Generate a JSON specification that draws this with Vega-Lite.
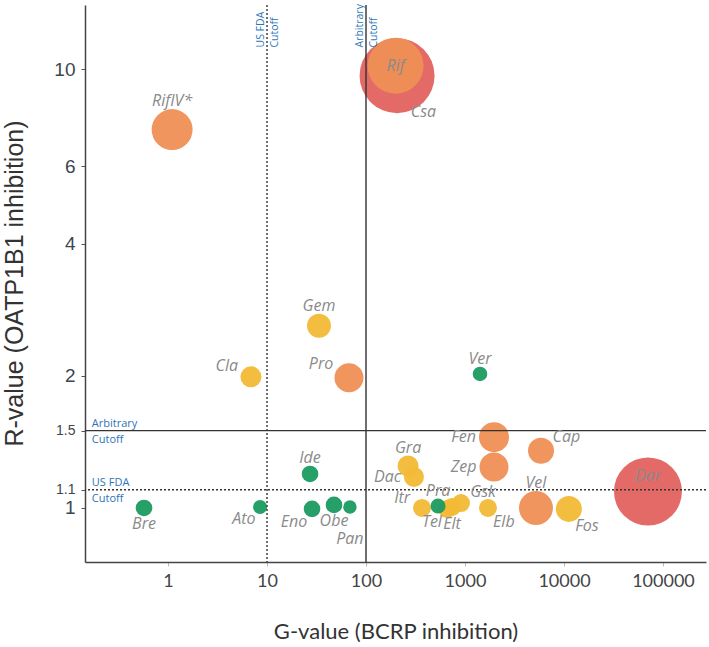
{
  "$schema": "https://vega.github.io/schema/vega-lite/v6.json",
  "width": 621,
  "height": 557,
  "autosize": {"type": "none"},
  "padding": {"left": 85, "top": 5, "right": 3, "bottom": 85},
  "config": {"view": {"stroke": null}, "axis": {"grid": false}},
  "datasets": {
    "drugs": [
      {"drug": "Csa", "G": 206, "R": 9.66, "score": 140.6, "risk": "very high", "pos": "SE"},
      {"drug": "Dar", "G": 70500, "R": 1.09, "score": 115.6, "risk": "very high", "pos": "CN"},
      {"drug": "Rif", "G": 199, "R": 10.18, "score": 78.4, "risk": "high", "pos": "C"},
      {"drug": "RifIV*", "G": 1.1, "R": 7.28, "score": 42, "risk": "high", "pos": "N"},
      {"drug": "Pro", "G": 67.3, "R": 1.98, "score": 21, "risk": "high", "pos": "NW"},
      {"drug": "Fen", "G": 1963, "R": 1.45, "score": 22.5, "risk": "high", "pos": "W"},
      {"drug": "Zep", "G": 1963, "R": 1.24, "score": 21, "risk": "high", "pos": "W"},
      {"drug": "Cap", "G": 5860, "R": 1.35, "score": 16.9, "risk": "high", "pos": "NE"},
      {"drug": "Vel", "G": 5210, "R": 1.0, "score": 28.9, "risk": "high", "pos": "N"},
      {"drug": "Gem", "G": 33.5, "R": 2.6, "score": 14.4, "risk": "moderate", "pos": "N"},
      {"drug": "Cla", "G": 6.88, "R": 1.99, "score": 11, "risk": "moderate", "pos": "NW"},
      {"drug": "Gra", "G": 266, "R": 1.246, "score": 11, "risk": "moderate", "pos": "N"},
      {"drug": "Dac", "G": 305, "R": 1.177, "score": 10, "risk": "moderate", "pos": "W"},
      {"drug": "Itr", "G": 368, "R": 1.0, "score": 8.1, "risk": "moderate", "pos": "NW"},
      {"drug": "Tel", "G": 658, "R": 0.995, "score": 8.1, "risk": "moderate", "pos": "SW"},
      {"drug": "Elt", "G": 739, "R": 1.005, "score": 8.1, "risk": "moderate", "pos": "S"},
      {"drug": "Gsk", "G": 911, "R": 1.026, "score": 8.1, "risk": "moderate", "pos": "NE"},
      {"drug": "Elb", "G": 1707, "R": 1.0, "score": 8.1, "risk": "moderate", "pos": "SE"},
      {"drug": "Fos", "G": 11200, "R": 0.995, "score": 16.9, "risk": "moderate", "pos": "SE"},
      {"drug": "Ver", "G": 1418, "R": 2.02, "score": 5.3, "risk": "low", "pos": "N"},
      {"drug": "Ide", "G": 27.2, "R": 1.195, "score": 6.9, "risk": "low", "pos": "N"},
      {"drug": "Bre", "G": 0.572, "R": 1.0, "score": 6.9, "risk": "low", "pos": "S"},
      {"drug": "Ato", "G": 8.51, "R": 1.005, "score": 4.9, "risk": "low", "pos": "SW"},
      {"drug": "Eno", "G": 28.5, "R": 0.995, "score": 6.9, "risk": "low", "pos": "SW"},
      {"drug": "Obe", "G": 47.5, "R": 1.016, "score": 6.9, "risk": "low", "pos": "S"},
      {"drug": "Pan", "G": 68.8, "R": 1.005, "score": 4.5, "risk": "low", "pos": "S2"},
      {"drug": "Pra", "G": 534, "R": 1.01, "score": 5.6, "risk": "low", "pos": "N"}
    ],
    "cutoffs": [
      {"axis": "G", "value": 10, "kind": "US FDA", "note": "US FDA\nCutoff"},
      {"axis": "G", "value": 100, "kind": "Arbitrary", "note": "Arbitrary\nCutoff"},
      {"axis": "R", "value": 1.1, "kind": "US FDA", "note": "US FDA\nCutoff"},
      {"axis": "R", "value": 1.5, "kind": "Arbitrary", "note": "Arbitrary\nCutoff"}
    ]
  },
  "layer": [
    {
      "data": {"name": "drugs"},
      "mark": {"type": "circle", "opacity": 0.95},
      "encoding": {
        "x": {
          "field": "G", "type": "quantitative",
          "scale": {"type": "log", "domain": [0.145, 272000], "nice": false},
          "axis": {
            "title": "G-value (BCRP inhibition)",
            "values": [1, 10, 100, 1000, 10000, 100000],
            "format": "d",
            "labelFont": "Lato", "labelFontSize": 18, "labelColor": "#444444",
            "labelPadding": 6, "tickSize": 4, "tickColor": "#bbbbbb",
            "domainColor": "#444444", "domainWidth": 1.5,
            "titleFont": "Lato", "titleFontSize": 22, "titleFontWeight": "normal",
            "titleColor": "#333333", "titleBaseline": "middle", "titleY": 69
          }
        },
        "y": {
          "field": "R", "type": "quantitative",
          "scale": {"type": "log", "domain": [0.753, 14.0], "nice": false},
          "axis": {
            "title": "R-value (OATP1B1 inhibition)",
            "values": [1, 1.1, 1.5, 2, 4, 6, 10],
            "format": ".1~f",
            "labelOverlap": false,
            "labelFont": "Liberation Sans",
            "labelFontSize": {"condition": {"test": "datum.value === 1.1 || datum.value === 1.5", "value": 14}, "value": 19},
            "labelColor": "#3c4650",
            "labelPadding": 6, "tickSize": 4, "tickColor": "#555555",
            "domainColor": "#444444", "domainWidth": 1.5,
            "titleFont": "Liberation Sans", "titleFontSize": 25, "titleFontWeight": "normal",
            "titleColor": "#333333", "titleBaseline": "middle", "titleX": -71, "titleY": 278
          }
        },
        "size": {"field": "score", "type": "quantitative", "scale": {"type": "linear", "domain": [0, 150], "range": [0, 6000]}, "legend": null},
        "color": {"field": "risk", "type": "nominal", "scale": {"domain": ["low", "moderate", "high", "very high"], "range": ["#1a9a60", "#f2b935", "#ef8f55", "#e2625f"]}, "legend": null}
      }
    },
    {
      "data": {"name": "cutoffs"},
      "transform": [{"filter": "datum.axis === 'G'"}],
      "mark": {"type": "rule", "color": "#333333", "strokeWidth": 1.4},
      "encoding": {
        "x": {"field": "value", "type": "quantitative"},
        "strokeDash": {"field": "kind", "type": "nominal", "scale": {"domain": ["US FDA", "Arbitrary"], "range": [[2, 2], [1, 0]]}, "legend": null}
      }
    },
    {
      "data": {"name": "cutoffs"},
      "transform": [{"filter": "datum.axis === 'R'"}],
      "mark": {"type": "rule", "color": "#333333", "strokeWidth": 1.4},
      "encoding": {
        "y": {"field": "value", "type": "quantitative"},
        "strokeDash": {"field": "kind", "type": "nominal", "scale": {"domain": ["US FDA", "Arbitrary"], "range": [[2, 2], [1, 0]]}, "legend": null}
      }
    },
    {
      "data": {"name": "drugs"},
      "mark": {
        "type": "text", "font": "Open Sans", "fontStyle": "italic", "fontSize": 16,
        "color": "#8a8a8a", "baseline": "middle",
        "dx": {"expr": "(datum.pos==='W' ? -(sqrt(datum.score*10)+3) : datum.pos==='NE' ? 0.55*(sqrt(datum.score*10)+8) : datum.pos==='NW' ? -0.7*(sqrt(datum.score*10)+8) : datum.pos==='SE' ? 0.3*(sqrt(datum.score*10)+8) : datum.pos==='SW' ? -0.3*(sqrt(datum.score*10)+8) : 0)"},
        "dy": {"expr": "(datum.pos==='N' ? -(sqrt(datum.score*10)+8) : datum.pos==='S' ? sqrt(datum.score*10)+8 : datum.pos==='S2' ? sqrt(datum.score*10)+25 : datum.pos==='NE' ? -0.65*(sqrt(datum.score*10)+8) : datum.pos==='NW' ? -0.6*(sqrt(datum.score*10)+8) : (datum.pos==='SE' || datum.pos==='SW') ? 0.8*(sqrt(datum.score*10)+8) : datum.pos==='CN' ? -0.47*sqrt(datum.score*10) : 0)"},
        "align": {"expr": "(datum.pos==='NE' || datum.pos==='SE') ? 'left' : (datum.pos==='W' || datum.pos==='NW' || datum.pos==='SW') ? 'right' : 'center'"}
      },
      "encoding": {
        "x": {"field": "G", "type": "quantitative"},
        "y": {"field": "R", "type": "quantitative"},
        "text": {"field": "drug"}
      }
    },
    {
      "data": {"name": "cutoffs"},
      "transform": [{"filter": "datum.axis === 'G'"}],
      "mark": {"type": "text", "font": "Open Sans", "fontSize": 10.5, "color": "#2e75b6", "angle": 270, "align": "left", "baseline": "middle", "lineBreak": "\n", "lineHeight": 14, "dy": -6},
      "encoding": {
        "x": {"field": "value", "type": "quantitative"},
        "y": {"datum": 11.2},
        "text": {"field": "note"}
      }
    },
    {
      "data": {"name": "cutoffs"},
      "transform": [{"filter": "datum.axis === 'R'"}],
      "mark": {"type": "text", "font": "Open Sans", "fontSize": 11, "color": "#2e75b6", "align": "left", "baseline": "middle", "lineBreak": "\n", "lineHeight": 16, "dy": -7},
      "encoding": {
        "x": {"datum": 0.17},
        "y": {"field": "value", "type": "quantitative"},
        "text": {"field": "note"}
      }
    }
  ]
}
